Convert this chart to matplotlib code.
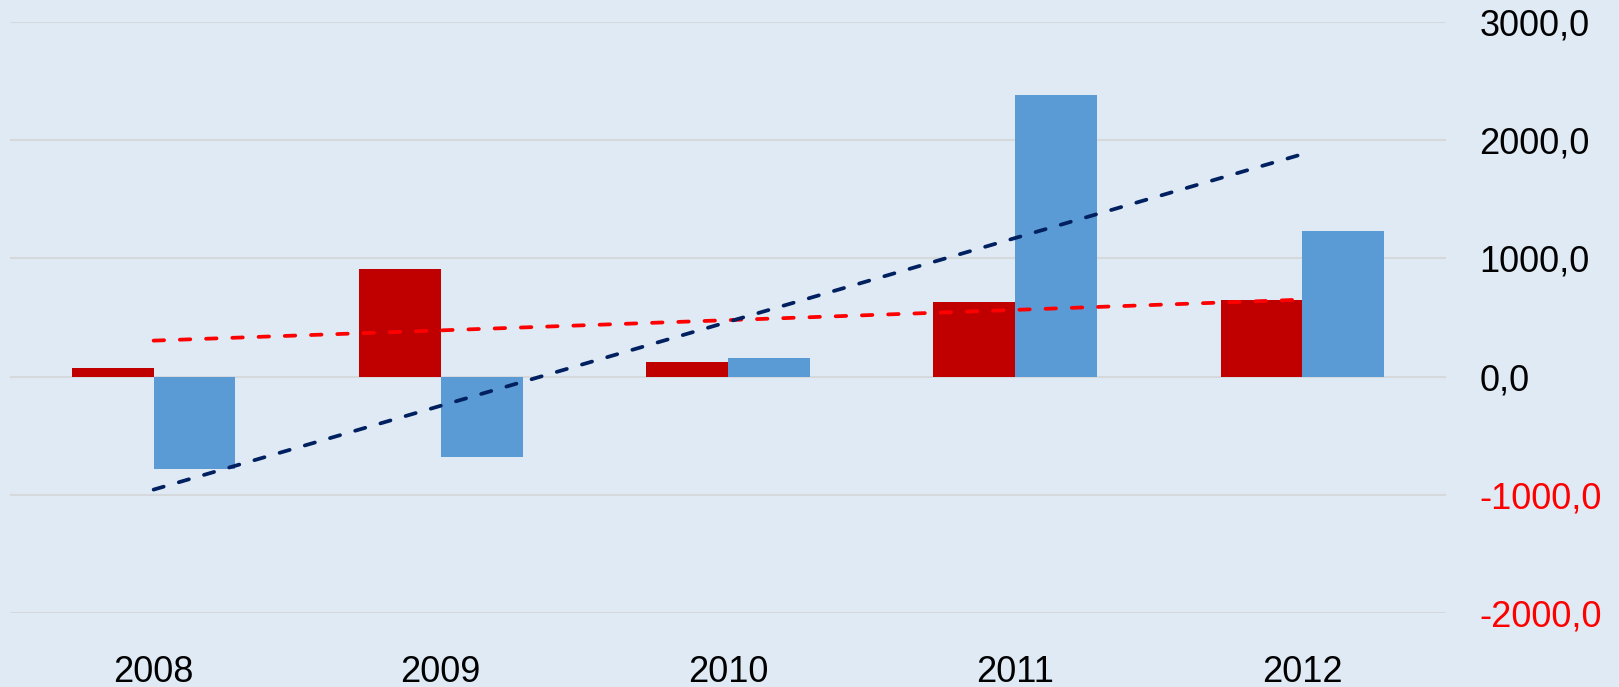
import numpy as np
import matplotlib.pyplot as plt
from matplotlib.ticker import FuncFormatter

# ---- data ----
years = ["2008", "2009", "2010", "2011", "2012"]
red_values = [76, 909, 124, 633, 647]
blue_values = [-780, -679, 160, 2379, 1235]
y_ticks = [-2000, -1000, 0, 1000, 2000, 3000]

BG = "#DFEAF5"
RED_BAR = "#C00000"
BLUE_BAR = "#5B9BD5"
RED_TREND = "#FF0000"
BLUE_TREND = "#002060"

plt.rcParams['font.family'] = ['Liberation Sans', 'DejaVu Sans']

fig = plt.figure(figsize=(16.19, 6.87), dpi=100, facecolor=BG)
ax = fig.add_axes([10 / 1619, 1 - 613.3 / 687, 1436 / 1619, (613.3 - 21.7) / 687])
ax.set_facecolor(BG)

x = np.arange(len(years))
w = 0.285
ax.bar(x - w / 2, red_values, width=w, color=RED_BAR, zorder=3)
ax.bar(x + w / 2, blue_values, width=w, color=BLUE_BAR, zorder=3)

# linear trend lines
for vals, col in [(red_values, RED_TREND), (blue_values, BLUE_TREND)]:
    k, b = np.polyfit(x, vals, 1)
    ax.plot(x, k * x + b, color=col, lw=2.7, dashes=(2.8, 4.2),
            dash_capstyle='round', zorder=4)

ax.set_xlim(-0.5, len(years) - 0.5)
ax.set_ylim(-2000, 3000)
ax.set_yticks(y_ticks)
ax.yaxis.set_major_formatter(FuncFormatter(lambda v, p: f"{v:.1f}".replace(".", ",")))
ax.yaxis.tick_right()
ax.set_xticks(x)
ax.set_xticklabels(years)
ax.tick_params(axis='y', length=0, pad=24, labelsize=26)
ax.tick_params(axis='x', length=0, pad=30, labelsize=26)
for lbl, v in zip(ax.get_yticklabels(), y_ticks):
    lbl.set_color(RED_TREND if v < 0 else "black")

ax.grid(axis='y', color="#D6D9DC", lw=1.5, zorder=0)
for s in ax.spines.values():
    s.set_visible(False)

fig.savefig("out.png", dpi=100, facecolor=BG)
